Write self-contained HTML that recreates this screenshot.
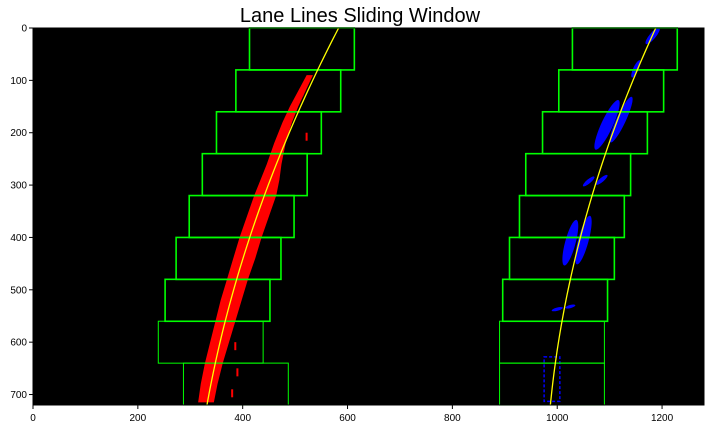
<!DOCTYPE html>
<html><head><meta charset="utf-8"><style>
html,body{margin:0;padding:0;background:#fff;width:713px;height:429px;overflow:hidden}
svg{display:block;font-family:"Liberation Sans","DejaVu Sans",sans-serif}
</style></head><body>
<svg id="chart" width="713" height="429" xmlns="http://www.w3.org/2000/svg">
<text x="360" y="22" font-size="20" text-anchor="middle" fill="#000">Lane Lines Sliding Window</text>
<rect x="33" y="28" width="671" height="377" fill="#000"/>
<g id="pix"></g><g id="wins"></g><g id="fits"></g><g id="axes"></g>
</svg>
<script>
const xTicks=[0,200,400,600,800,1000,1200];
const yTicks=[0,100,200,300,400,500,600,700];
const winLows=[640,560,480,400,320,240,160,80,0];
const leftWinX=[287,239,252,273,298,323,350,387,413];
const rightWinX=[890,890,896,909,928,940,972,1003,1029];
const winWidth=200, winHeight=80;
const leftFit=[0.000235,-0.518,583];
const rightFit=[0.000251,-0.46,1188];
// red band: [y, xLeft, xRight]
const redBandY=[715,680,640,600,560,520,480,440,400,360,320,290,260,220,180,150,120,90];
const redBandL=[315,320,328,338,348,358,370,382,394,408,422,434,446,460,476,490,506,522];
const redBandR=[345,352,362,374,386,398,410,424,436,450,464,470,474,482,494,506,520,534];
const redFragX=[388,384,378,455,470,520,512];
const redFragY=[650,600,690,300,240,200,115];
const blueCX=[1182,1150,1095,1122,1060,1085,1025,1050,1000,1025];
const blueCY=[15,78,185,175,293,290,410,405,537,532];
const blueRX=[6,5,11,9,4,4,10,10,3,3];
const blueRY=[20,18,52,48,14,14,45,48,11,10];
const blueAng=[40,25,25,25,50,50,15,15,75,75];

const X0=33,Y0=28,S=671/1280;
const sx=v=>X0+v*S, sy=v=>Y0+v*(377/720);
const NS="http://www.w3.org/2000/svg";
function mk(t,a,p){const e=document.createElementNS(NS,t);for(const k in a)e.setAttribute(k,a[k]);p.appendChild(e);return e;}
const pix=document.getElementById('pix'),wins=document.getElementById('wins'),fits=document.getElementById('fits'),axes=document.getElementById('axes');
let pts=[];
redBandY.forEach((y,i)=>pts.push(sx(redBandL[i])+','+sy(y)));
for(let i=redBandY.length-1;i>=0;i--)pts.push(sx(redBandR[i])+','+sy(redBandY[i]));
let band=mk('polygon',{points:pts.join(' '),fill:'#ff0000'},pix);


redFragX.forEach((x,i)=>{const r=mk('rect',{x:sx(x),y:sy(redFragY[i]),width:2,height:8,fill:'#ff0000'},pix);

});
blueCX.forEach((x,i)=>{const e=mk('ellipse',{cx:sx(x),cy:sy(blueCY[i]),rx:blueRX[i]*S,ry:blueRY[i]*S,fill:'#0000ff',transform:`rotate(${blueAng[i]} ${sx(x)} ${sy(blueCY[i])})`},pix);

});
const bp=mk('rect',{x:sx(975),y:sy(628),width:30*S,height:85*S,fill:'none',stroke:'#0000ff','stroke-width':1.5,'stroke-dasharray':'3 2'},pix);


winLows.forEach((lo,i)=>{
 [[leftWinX,'left'],[rightWinX,'right']].forEach(([arr,side])=>{
  const r=mk('rect',{x:sx(arr[i]),y:sy(lo),width:winWidth*S,height:winHeight*S,fill:'none',stroke:'#00ff00','stroke-width':(i<2?1:1.6)},wins);
  
  
 });
});
[[leftFit,'left-fit-line'],[rightFit,'right-fit-line']].forEach(([f,n])=>{
 let d='';for(let y=0;y<=720;y+=10){let x=f[0]*y*y+f[1]*y+f[2];if(x>1280)continue;d+=(d?'L':'M')+sx(x).toFixed(2)+','+sy(y).toFixed(2);}
 const p=mk('path',{d:d,fill:'none',stroke:'#ffff00','stroke-width':1.3},fits);
 
 
});
const fr=mk('rect',{x:X0,y:Y0,width:671,height:377,fill:'none',stroke:'#000','stroke-width':1},axes);


xTicks.forEach(v=>{mk('line',{x1:sx(v),x2:sx(v),y1:405,y2:409,stroke:'#000'},axes);
 const t=mk('text',{x:sx(v),y:421,'font-size':10,'text-anchor':'middle',fill:'#000'},axes);t.textContent=v;
 
 });
yTicks.forEach(v=>{mk('line',{x1:29,x2:33,y1:sy(v),y2:sy(v),stroke:'#000'},axes);
 const t=mk('text',{x:27,y:sy(v)+3.5,'font-size':10,'text-anchor':'end',fill:'#000'},axes);t.textContent=v;
 
 });
</script>
</body></html>
